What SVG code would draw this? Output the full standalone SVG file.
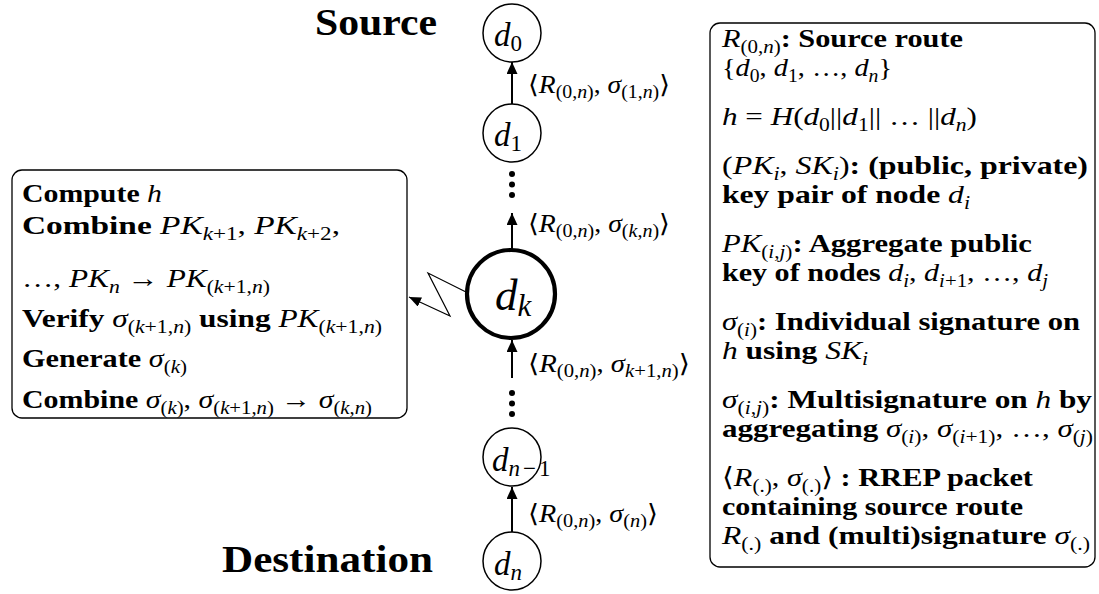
<svg xmlns="http://www.w3.org/2000/svg" width="1099" height="594" viewBox="0 0 1099 594">
<style>
.t{font-family:"Liberation Serif","DejaVu Serif","DejaVu Sans",serif;fill:#000}
.bf{font-weight:bold}
.i{font-style:italic;font-weight:normal}
.n{font-style:normal;font-weight:normal}
.bx{font-size:26px}
.ml{font-size:25px}
.sb{font-size:18px}
.big{font-size:37px;font-weight:bold}
.box{fill:#fff;stroke:#000;stroke-width:1.3}
.nd{fill:#fff;stroke:#000;stroke-width:1.5}
.ndk{fill:#fff;stroke:#000;stroke-width:4.2}
.ar{stroke:#000;stroke-width:2;fill:none}
.zz{stroke:#000;stroke-width:1.2;fill:none}
.dot{fill:#000}
</style>
<defs>
<marker id="ah" markerUnits="userSpaceOnUse" markerWidth="12" markerHeight="11" refX="12" refY="5.5" orient="auto"><path d="M0,0 L12,5.5 L0,11 z" fill="#000"/></marker>
<marker id="ah2" markerUnits="userSpaceOnUse" markerWidth="12" markerHeight="10" refX="12" refY="5" orient="auto"><path d="M0,0 L12,5 L0,10 z" fill="#000"/></marker>
</defs>

<g id="source-label"><text class="t big" x="315" y="35" textLength="122" lengthAdjust="spacingAndGlyphs">Source</text></g>
<g id="destination-label"><text class="t big" x="222" y="572" textLength="211" lengthAdjust="spacingAndGlyphs">Destination</text></g>

<g id="connectors">
<line class="ar" x1="512" y1="104" x2="512" y2="62" marker-end="url(#ah)"/>
<line class="ar" x1="512" y1="250" x2="512" y2="213" marker-end="url(#ah)"/>
<line class="ar" x1="512" y1="378" x2="512" y2="340" marker-end="url(#ah)"/>
<line class="ar" x1="512" y1="532" x2="512" y2="487" marker-end="url(#ah)"/>
<polyline class="zz" points="466,292 428,273 450,316 409,297" marker-end="url(#ah2)"/>
<circle class="dot" cx="512" cy="174" r="3"/>
<circle class="dot" cx="512" cy="184.5" r="3"/>
<circle class="dot" cx="512" cy="195" r="3"/>
<circle class="dot" cx="512" cy="393" r="3"/>
<circle class="dot" cx="512" cy="403.5" r="3"/>
<circle class="dot" cx="512" cy="414" r="3"/>
<text class="t ml n" x="528" y="93" textLength="142" lengthAdjust="spacingAndGlyphs">⟨<tspan class="i">R</tspan><tspan class="sb" dy="5">(0,<tspan class="i">n</tspan>)</tspan><tspan dy="-5">, </tspan><tspan class="i">σ</tspan><tspan class="sb" dy="5">(1,<tspan class="i">n</tspan>)</tspan><tspan dy="-5">⟩</tspan></text>
<text class="t ml n" x="528" y="232" textLength="142" lengthAdjust="spacingAndGlyphs">⟨<tspan class="i">R</tspan><tspan class="sb" dy="5">(0,<tspan class="i">n</tspan>)</tspan><tspan dy="-5">, </tspan><tspan class="i">σ</tspan><tspan class="sb" dy="5">(<tspan class="i">k</tspan>,<tspan class="i">n</tspan>)</tspan><tspan dy="-5">⟩</tspan></text>
<text class="t ml n" x="528" y="372" textLength="162" lengthAdjust="spacingAndGlyphs">⟨<tspan class="i">R</tspan><tspan class="sb" dy="5">(0,<tspan class="i">n</tspan>)</tspan><tspan dy="-5">, </tspan><tspan class="i">σ</tspan><tspan class="sb" dy="5"><tspan class="i">k</tspan>+1,<tspan class="i">n</tspan>)</tspan><tspan dy="-5">⟩</tspan></text>
<text class="t ml n" x="528" y="522" textLength="130" lengthAdjust="spacingAndGlyphs">⟨<tspan class="i">R</tspan><tspan class="sb" dy="5">(0,<tspan class="i">n</tspan>)</tspan><tspan dy="-5">, </tspan><tspan class="i">σ</tspan><tspan class="sb" dy="5">(<tspan class="i">n</tspan>)</tspan><tspan dy="-5">⟩</tspan></text>
</g>

<g id="d0"><circle class="nd" cx="512" cy="33" r="29"/><text class="t i" x="494" y="46" font-size="33">d<tspan font-size="23" font-style="normal" dy="5">0</tspan></text></g>
<g id="d1"><circle class="nd" cx="512" cy="133" r="29"/><text class="t i" x="494" y="146" font-size="33">d<tspan font-size="23" font-style="normal" dy="5">1</tspan></text></g>
<g id="dk"><circle class="ndk" cx="511" cy="294" r="44"/><text class="t i" x="495" y="310" font-size="45">d<tspan font-size="31" dy="6">k</tspan></text></g>
<g id="dn-1"><circle class="nd" cx="512" cy="457" r="29"/><text class="t i" x="492" y="471" font-size="33">d<tspan font-size="23" dy="5">n<tspan font-style="normal" dx="3">−</tspan><tspan font-style="normal" dx="3">1</tspan></tspan></text></g>
<g id="dn"><circle class="nd" cx="512" cy="561" r="29"/><text class="t i" x="494" y="575" font-size="33">d<tspan font-size="23" dy="5">n</tspan></text></g>

<g id="left-box">
<rect class="box" x="12" y="170" width="395" height="248" rx="10"/>
<text class="t bx bf" x="22" y="202" textLength="140" lengthAdjust="spacingAndGlyphs">Compute <tspan class="i">h</tspan></text>
<text class="t bx bf" x="22" y="234" textLength="318" lengthAdjust="spacingAndGlyphs">Combine <tspan class="i">PK</tspan><tspan class="sb n" dy="6"><tspan class="i">k</tspan>+1</tspan><tspan class="n" dy="-6">, </tspan><tspan class="i">PK</tspan><tspan class="sb n" dy="6"><tspan class="i">k</tspan>+2</tspan><tspan class="n" dy="-6">,</tspan></text>
<text class="t bx n" x="22" y="287" textLength="248" lengthAdjust="spacingAndGlyphs">…, <tspan class="i">PK</tspan><tspan class="sb" dy="6"><tspan class="i">n</tspan></tspan><tspan dy="-6"> → </tspan><tspan class="i">PK</tspan><tspan class="sb" dy="6">(<tspan class="i">k</tspan>+1,<tspan class="i">n</tspan>)</tspan></text>
<text class="t bx bf" x="22" y="327" textLength="360" lengthAdjust="spacingAndGlyphs">Verify <tspan class="i">σ</tspan><tspan class="sb n" dy="6">(<tspan class="i">k</tspan>+1,<tspan class="i">n</tspan>)</tspan><tspan dy="-6"> using </tspan><tspan class="i">PK</tspan><tspan class="sb n" dy="6">(<tspan class="i">k</tspan>+1,<tspan class="i">n</tspan>)</tspan></text>
<text class="t bx bf" x="22" y="367" textLength="165" lengthAdjust="spacingAndGlyphs">Generate <tspan class="i">σ</tspan><tspan class="sb n" dy="6">(<tspan class="i">k</tspan>)</tspan></text>
<text class="t bx bf" x="22" y="408" textLength="350" lengthAdjust="spacingAndGlyphs">Combine <tspan class="i">σ</tspan><tspan class="sb n" dy="6">(<tspan class="i">k</tspan>)</tspan><tspan class="n" dy="-6">, </tspan><tspan class="i">σ</tspan><tspan class="sb n" dy="6">(<tspan class="i">k</tspan>+1,<tspan class="i">n</tspan>)</tspan><tspan class="n" dy="-6"> → </tspan><tspan class="i">σ</tspan><tspan class="sb n" dy="6">(<tspan class="i">k</tspan>,<tspan class="i">n</tspan>)</tspan></text>
</g>

<g id="right-box">
<rect class="box" x="710" y="23" width="385" height="544" rx="10"/>
<text class="t bx bf" x="722" y="47" textLength="241" lengthAdjust="spacingAndGlyphs"><tspan class="i">R</tspan><tspan class="sb n" dy="6">(0,<tspan class="i">n</tspan>)</tspan><tspan dy="-6">: Source route</tspan></text>
<text class="t bx n" x="722" y="76" textLength="170" lengthAdjust="spacingAndGlyphs">{<tspan class="i">d</tspan><tspan class="sb" dy="6">0</tspan><tspan dy="-6">, </tspan><tspan class="i">d</tspan><tspan class="sb" dy="6">1</tspan><tspan dy="-6">, …, </tspan><tspan class="i">d</tspan><tspan class="sb i" dy="6">n</tspan><tspan dy="-6">}</tspan></text>
<text class="t bx n" x="722" y="125" textLength="255" lengthAdjust="spacingAndGlyphs"><tspan class="i">h</tspan> = <tspan class="i">H</tspan>(<tspan class="i">d</tspan><tspan class="sb" dy="6">0</tspan><tspan dy="-6">||</tspan><tspan class="i">d</tspan><tspan class="sb" dy="6">1</tspan><tspan dy="-6">|| … ||</tspan><tspan class="i">d</tspan><tspan class="sb i" dy="6">n</tspan><tspan dy="-6">)</tspan></text>
<text class="t bx bf" x="722" y="174" textLength="366" lengthAdjust="spacingAndGlyphs"><tspan class="n">(</tspan><tspan class="i">PK</tspan><tspan class="sb i" dy="6">i</tspan><tspan class="n" dy="-6">, </tspan><tspan class="i">SK</tspan><tspan class="sb i" dy="6">i</tspan><tspan class="n" dy="-6">)</tspan>: (public, private)</text>
<text class="t bx bf" x="722" y="203" textLength="248" lengthAdjust="spacingAndGlyphs">key pair of node <tspan class="i">d</tspan><tspan class="sb i" dy="6">i</tspan></text>
<text class="t bx bf" x="722" y="252" textLength="310" lengthAdjust="spacingAndGlyphs"><tspan class="i">PK</tspan><tspan class="sb n" dy="6">(<tspan class="i">i</tspan>,<tspan class="i">j</tspan>)</tspan><tspan dy="-6">: Aggregate public</tspan></text>
<text class="t bx bf" x="722" y="281" textLength="326" lengthAdjust="spacingAndGlyphs">key of nodes <tspan class="i">d</tspan><tspan class="sb i" dy="6">i</tspan><tspan class="n" dy="-6">, </tspan><tspan class="i">d</tspan><tspan class="sb n" dy="6"><tspan class="i">i</tspan>+1</tspan><tspan class="n" dy="-6">, …, </tspan><tspan class="i">d</tspan><tspan class="sb i" dy="6">j</tspan></text>
<text class="t bx bf" x="722" y="330" textLength="358" lengthAdjust="spacingAndGlyphs"><tspan class="i">σ</tspan><tspan class="sb n" dy="6">(<tspan class="i">i</tspan>)</tspan><tspan dy="-6">: Individual signature on</tspan></text>
<text class="t bx bf" x="722" y="359" textLength="146" lengthAdjust="spacingAndGlyphs"><tspan class="i">h</tspan> using <tspan class="i">SK</tspan><tspan class="sb i" dy="6">i</tspan></text>
<text class="t bx bf" x="722" y="408" textLength="370" lengthAdjust="spacingAndGlyphs"><tspan class="i">σ</tspan><tspan class="sb n" dy="6">(<tspan class="i">i</tspan>,<tspan class="i">j</tspan>)</tspan><tspan dy="-6">: Multisignature on </tspan><tspan class="i">h</tspan> by</text>
<text class="t bx bf" x="722" y="437" textLength="371" lengthAdjust="spacingAndGlyphs">aggregating <tspan class="i">σ</tspan><tspan class="sb n" dy="6">(<tspan class="i">i</tspan>)</tspan><tspan class="n" dy="-6">, </tspan><tspan class="i">σ</tspan><tspan class="sb n" dy="6">(<tspan class="i">i</tspan>+1)</tspan><tspan class="n" dy="-6">, …, </tspan><tspan class="i">σ</tspan><tspan class="sb n" dy="6">(<tspan class="i">j</tspan>)</tspan></text>
<text class="t bx bf" x="722" y="486" textLength="311" lengthAdjust="spacingAndGlyphs"><tspan class="n">⟨</tspan><tspan class="i">R</tspan><tspan class="sb n" dy="6">(.)</tspan><tspan class="n" dy="-6">, </tspan><tspan class="i">σ</tspan><tspan class="sb n" dy="6">(.)</tspan><tspan class="n" dy="-6">⟩</tspan> : RREP packet</text>
<text class="t bx bf" x="722" y="515" textLength="301" lengthAdjust="spacingAndGlyphs">containing source route</text>
<text class="t bx bf" x="722" y="544" textLength="368" lengthAdjust="spacingAndGlyphs"><tspan class="i">R</tspan><tspan class="sb n" dy="6">(.)</tspan><tspan dy="-6"> and (multi)signature </tspan><tspan class="i">σ</tspan><tspan class="sb n" dy="6">(.)</tspan></text>
</g>
</svg>
